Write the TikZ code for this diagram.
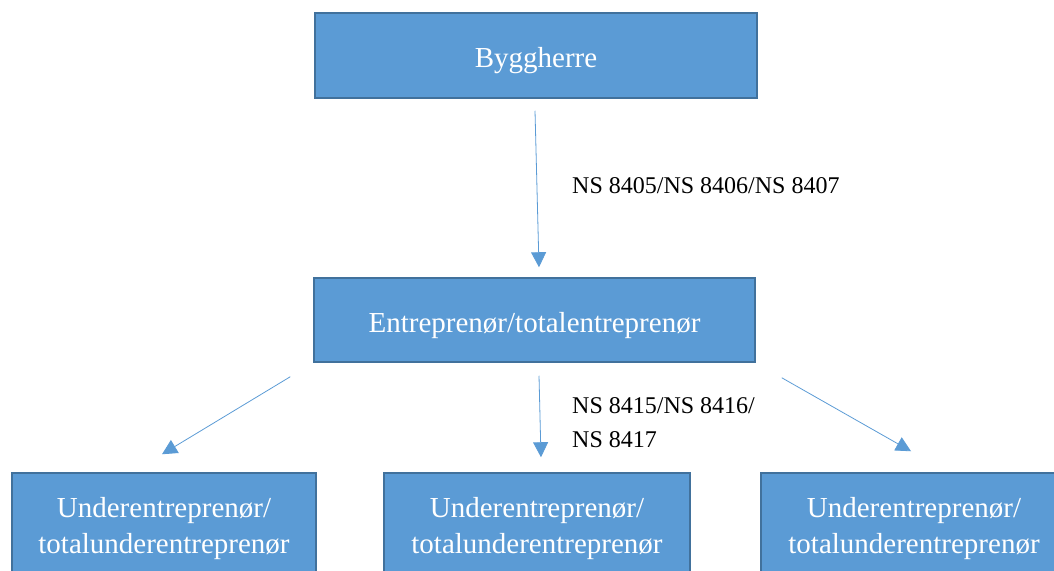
\documentclass[tikz,border=0pt]{standalone}
\usepackage{fontspec}
\setmainfont{Liberation Serif}
\usepackage{xcolor}
\usepackage{tikz}
\usetikzlibrary{arrows.meta,calc}

\definecolor{boxblue}{HTML}{5B9BD5}
\definecolor{boxedge}{HTML}{41719C}

\tikzset{
	box/.style={draw=boxedge, fill=boxblue, line width=1.5pt, inner sep=0pt, text=white, font=\fontsize{29}{36}\selectfont},
	onebox/.style={box, text height=24pt, text depth=0pt},
	twobox/.style={box, align=center, minimum height=111pt},
	link/.style={-{Triangle[length=15pt,width=15pt]}, color=boxblue, line width=0.8pt},
	tag/.style={anchor=base west, inner sep=0pt, font=\fontsize{24}{30}\selectfont}
}

\begin{document}
\begin{tikzpicture}[x=1pt, y=-1pt]

\useasboundingbox (0,0) rectangle (1054,570);
\clip (0,0) rectangle (1054,570);

\node[onebox, minimum width=442pt, minimum height=85pt] (bygg) at (536,55.5) {Byggherre};

\node[onebox, minimum width=441pt, minimum height=84pt] (ent) at (534.5,320) {Entreprenør/totalentreprenør};

\node[twobox, minimum width=304pt] (sub1) at (164,528.5) {Underentreprenør/\\totalunderentreprenør};
\node[twobox, minimum width=306pt] (sub2) at (537,528.5) {Underentreprenør/\\totalunderentreprenør};
\node[twobox, minimum width=306pt] (sub3) at (914,528.5) {Underentreprenør/\\totalunderentreprenør};

\draw[link] ($(bygg.south)+(-1,12)$) -- ($(ent.north)+(4.5,-10)$);

\draw[link] ($(ent.south west)+(-23,14)$) -- ($(sub1.north)+(-2,-18)$);
\draw[link] ($(ent.south)+(4.5,13)$) -- ($(sub2.north)+(4,-15)$);
\draw[link] ($(ent.south east)+(26,15)$) -- ($(sub3.north)+(-3,-21)$);

\node[tag] (ns1) at (572,193) {NS 8405/NS 8406/NS 8407};

\node[tag] (ns2) at (572,413) {NS 8415/NS 8416/};
\node[tag] (ns3) at (572,447) {NS 8417};

\end{tikzpicture}
\end{document}
